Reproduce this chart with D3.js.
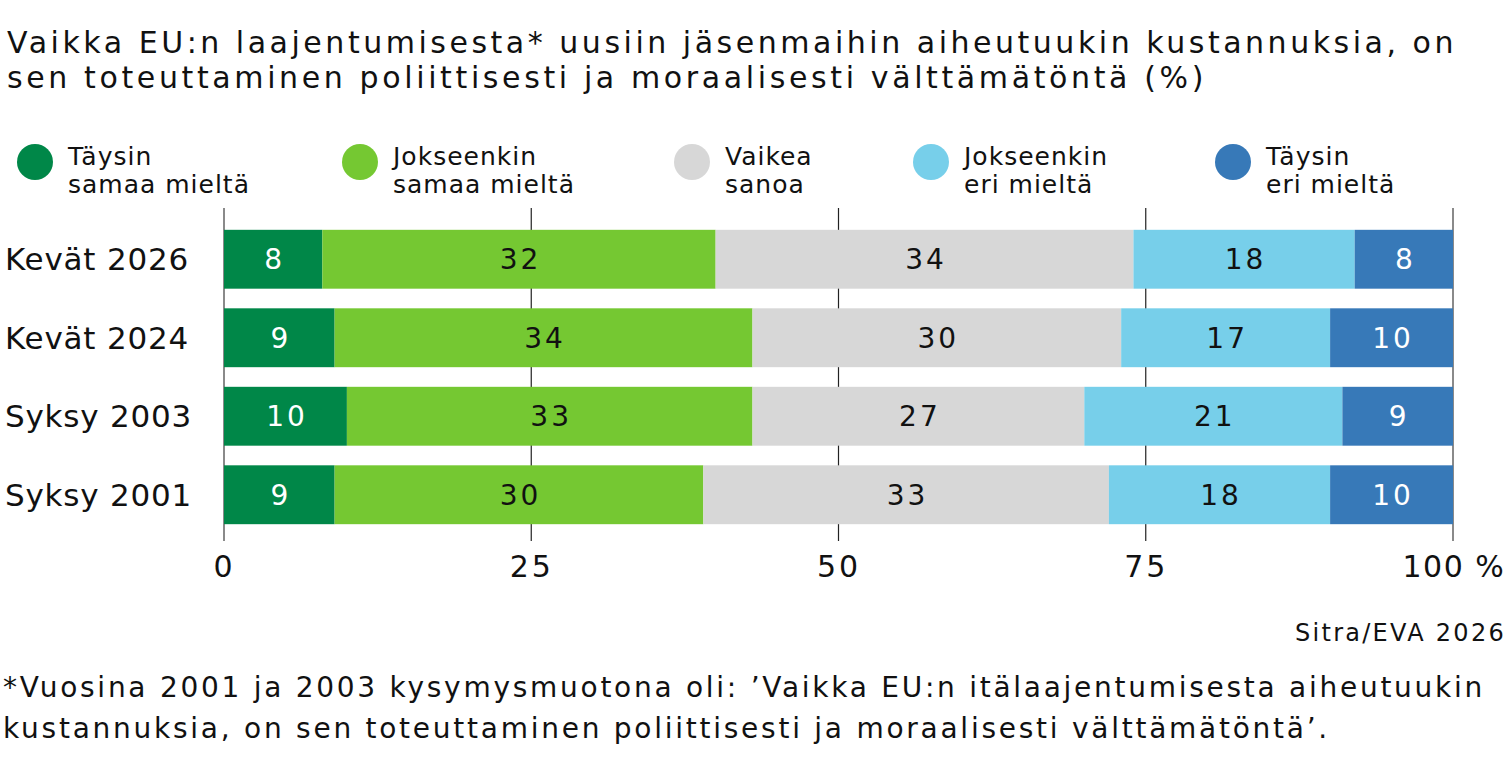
<!DOCTYPE html>
<html>
<head>
<meta charset="utf-8">
<script src="https://cdn.jsdelivr.net/npm/d3@7"></script>
<style>
  body { margin: 0; background: #fff; }
  svg { font-family: "DejaVu Sans", "Inter", sans-serif; }
</style>
</head>
<body>
<svg id="chart" width="1512" height="775"></svg>
<script>
// *** Data ***
var categories = ["Kevät 2026", "Kevät 2024", "Syksy 2003", "Syksy 2001"];
var seriesKeys = ["taysin_samaa", "jokseenkin_samaa", "vaikea", "jokseenkin_eri", "taysin_eri"];
var seriesLabels = [["Täysin", "samaa mieltä"], ["Jokseenkin", "samaa mieltä"], ["Vaikea", "sanoa"], ["Jokseenkin", "eri mieltä"], ["Täysin", "eri mieltä"]];
var taysinSamaa = [8, 9, 10, 9];
var jokseenkinSamaa = [32, 34, 33, 30];
var vaikeaSanoa = [34, 30, 27, 33];
var jokseenkinEri = [18, 17, 21, 18];
var taysinEri = [8, 10, 9, 10];
var xTicks = [0, 25, 50, 75, 100];

var titleLines = ["Vaikka EU:n laajentumisesta* uusiin jäsenmaihin aiheutuukin kustannuksia, on",
                  "sen toteuttaminen poliittisesti ja moraalisesti välttämätöntä (%)"];
var noteLines = ["*Vuosina 2001 ja 2003 kysymysmuotona oli: ’Vaikka EU:n itälaajentumisesta aiheutuukin",
                 "kustannuksia, on sen toteuttaminen poliittisesti ja moraalisesti välttämätöntä’."];
var sourceText = "Sitra/EVA 2026";

// table for d3.stack
var rows = categories.map(function(c, i) {
    return {
        category: c,
        taysin_samaa: taysinSamaa[i],
        jokseenkin_samaa: jokseenkinSamaa[i],
        vaikea: vaikeaSanoa[i],
        jokseenkin_eri: jokseenkinEri[i],
        taysin_eri: taysinEri[i]
    };
});

var color = d3.scaleOrdinal()
    .domain(seriesKeys)
    .range(["#008748", "#75c832", "#d7d7d7", "#77cfea", "#3779b8"]);
var labelColor = d3.scaleOrdinal()
    .domain(seriesKeys)
    .range(["#fff", "#111", "#111", "#111", "#fff"]);

var svg = d3.select("#chart");

// the original typeface is wider than anything installed, so open up the
// letter spacing until a line reaches the width it has in the original
function spacingFor(node, target) {
    var w = node.getComputedTextLength();
    var n = node.textContent.length;
    return (target - w) / n;
}

// *** Title ***
var titleWidths = [1450, 1200];
svg.selectAll(".title")
    .data(titleLines).enter().append("text")
    .attr("class", "title")
    .attr("x", 7)
    .attr("y", (d, i) => 53 + i * 35)
    .attr("font-size", 30)
    .attr("fill", "#111")
    .text(d => d)
    .each(function(d, i) {
        d3.select(this).attr("letter-spacing", spacingFor(this, titleWidths[i]));
    });

// *** Legend ***
var legendX = [35, 360, 692, 931, 1233];
var legendG = svg.selectAll(".legend")
    .data(seriesKeys).enter().append("g")
    .attr("class", "legend")
    .attr("transform", (d, i) => "translate(" + legendX[i] + ",162)");

legendG.append("circle")
    .attr("r", 18)
    .attr("fill", d => color(d));

legendG.each(function(d, i) {
    d3.select(this).selectAll("text")
        .data(seriesLabels[i]).enter().append("text")
        .attr("x", 33)
        .attr("y", (t, j) => 3 + j * 28)
        .attr("font-size", 25)
        .attr("fill", "#111")
        .text(t => t);
});
var legendTexts = svg.selectAll(".legend text");
var legendLs = spacingFor(legendTexts.nodes()[1], 182);
legendTexts.attr("letter-spacing", legendLs);

// *** Scales ***
var x = d3.scaleLinear().domain([0, 100]).range([224, 1453]);
var y = d3.scaleBand().domain(categories).range([220, 534]).paddingInner(0.25).paddingOuter(0.125);

// gridlines
svg.append("g").selectAll("line")
    .data(xTicks).enter().append("line")
    .attr("x1", d => x(d)).attr("x2", d => x(d))
    .attr("y1", 208).attr("y2", 541)
    .attr("stroke", d => (d === 0 || d === 100) ? "#8a8a8a" : "#222")
    .attr("stroke-width", d => (d === 0 || d === 100) ? 2 : 1.2);

// bars
var stacked = d3.stack().keys(seriesKeys)(rows);

var layer = svg.append("g").selectAll("g")
    .data(stacked).enter().append("g")
    .attr("fill", d => color(d.key));

layer.selectAll("rect")
    .data(d => d).enter().append("rect")
    .attr("x", d => x(d[0]))
    .attr("y", d => y(d.data.category))
    .attr("width", d => x(d[1]) - x(d[0]))
    .attr("height", y.bandwidth());

// value labels
svg.append("g").selectAll("g")
    .data(stacked).enter().append("g")
    .attr("fill", d => labelColor(d.key))
    .selectAll("text")
    .data(d => d).enter().append("text")
    .attr("x", d => (x(d[0]) + x(d[1])) / 2 + 1.5)
    .attr("y", d => y(d.data.category) + y.bandwidth() / 2)
    .attr("dy", "0.36em")
    .attr("text-anchor", "middle")
    .attr("font-size", 28)
    .attr("letter-spacing", 3)
    .text(d => d[1] - d[0]);

// category labels
var catLabels = svg.append("g").selectAll("text")
    .data(categories).enter().append("text")
    .attr("x", 5)
    .attr("y", d => y(d) + y.bandwidth() / 2)
    .attr("dy", "0.36em")
    .attr("font-size", 31)
    .attr("fill", "#111")
    .text(d => d);
catLabels.attr("letter-spacing", spacingFor(catLabels.node(), 184));

// x axis labels
var xAxis = d3.axisBottom(x)
    .tickValues(xTicks)
    .tickSize(0)
    .tickPadding(0)
    .tickFormat(d => d === 100 ? "100 %" : d);

var xAxisG = svg.append("g")
    .attr("transform", "translate(0,577)")
    .call(xAxis);
xAxisG.select(".domain").remove();
xAxisG.selectAll("text")
    .attr("font-family", "DejaVu Sans, Inter, sans-serif")
    .attr("font-size", 30)
    .attr("letter-spacing", 3)
    .attr("fill", "#111")
    .attr("dy", 0);
// keep the "100" part centered on the 100 line
xAxisG.selectAll(".tick").filter(d => d === 100).select("text")
    .attr("text-anchor", "start")
    .attr("x", -51)
    .attr("letter-spacing", 1.5);

// source
var src = svg.append("text")
    .attr("x", 1506)
    .attr("y", 641)
    .attr("text-anchor", "end")
    .attr("font-size", 24)
    .attr("fill", "#111")
    .text(sourceText);
src.attr("letter-spacing", spacingFor(src.node(), 211));

// footnote
var noteWidths = [1482, 1327];
svg.selectAll(".note")
    .data(noteLines).enter().append("text")
    .attr("class", "note")
    .attr("x", 3)
    .attr("y", (d, i) => 697 + i * 41)
    .attr("font-size", 28)
    .attr("fill", "#111")
    .text(d => d)
    .each(function(d, i) {
        d3.select(this).attr("letter-spacing", spacingFor(this, noteWidths[i]));
    });
</script>
</body>
</html>
